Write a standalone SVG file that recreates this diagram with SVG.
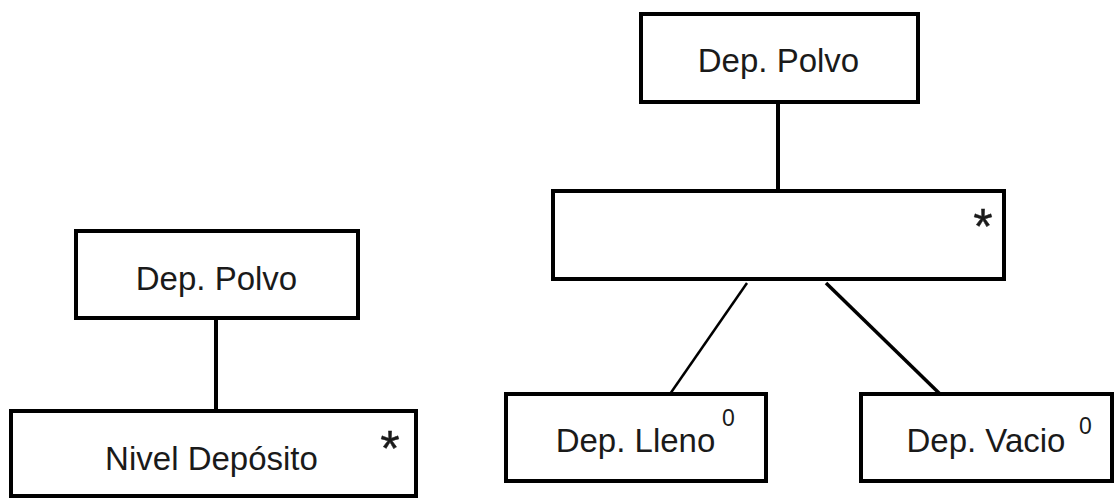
<svg xmlns="http://www.w3.org/2000/svg" width="1115" height="499" viewBox="0 0 1115 499">
  <style>
    .box { fill: #ffffff; stroke: #000000; stroke-width: 4; }
    .lbl { font-family: "Liberation Sans", Arial, sans-serif; font-size: 33px; fill: #1a1a1a; text-anchor: middle; }
    .star { font-family: "Liberation Sans", Arial, sans-serif; font-size: 50px; fill: #1a1a1a; stroke: #1a1a1a; stroke-width: 0.4; text-anchor: middle; }
    .sup { font-family: "Liberation Sans", Arial, sans-serif; font-size: 23px; fill: #1a1a1a; }
    .edge { stroke: #000000; fill: none; }
  </style>
  <rect width="1115" height="499" fill="#ffffff"/>

  <!-- connectors -->
  <g id="connectors">
    <line class="edge" x1="216" y1="318" x2="216" y2="411" stroke-width="4"/>
    <line class="edge" x1="778" y1="102" x2="778" y2="191" stroke-width="4"/>
    <line class="edge" x1="747" y1="283" x2="670" y2="394" stroke-width="2.5"/>
    <line class="edge" x1="826" y1="283" x2="940" y2="394" stroke-width="3.5"/>
  </g>

  <!-- left tree -->
  <g id="left-root">
    <rect class="box" x="76" y="231" width="282" height="87"/>
    <text class="lbl" x="216.5" y="290">Dep. Polvo</text>
  </g>
  <g id="left-nivel">
    <rect class="box" x="11" y="411" width="405" height="85"/>
    <text class="lbl" x="211.5" y="470">Nivel Depósito</text>
    <text class="star" x="390" y="466">*</text>
  </g>

  <!-- right tree -->
  <g id="right-root">
    <rect class="box" x="641" y="14" width="277" height="88"/>
    <text class="lbl" x="778.5" y="72">Dep. Polvo</text>
  </g>
  <g id="right-seq">
    <rect class="box" x="553" y="191" width="451" height="88"/>
    <text class="star" x="983" y="244">*</text>
  </g>
  <g id="right-lleno">
    <rect class="box" x="506" y="394" width="260" height="87"/>
    <text class="lbl" x="635.5" y="452">Dep. Lleno</text>
    <text class="sup" x="722" y="426">0</text>
  </g>
  <g id="right-vacio">
    <rect class="box" x="861" y="394" width="251" height="87"/>
    <text class="lbl" x="986" y="452">Dep. Vacio</text>
    <text class="sup" x="1079" y="434">0</text>
  </g>
</svg>
